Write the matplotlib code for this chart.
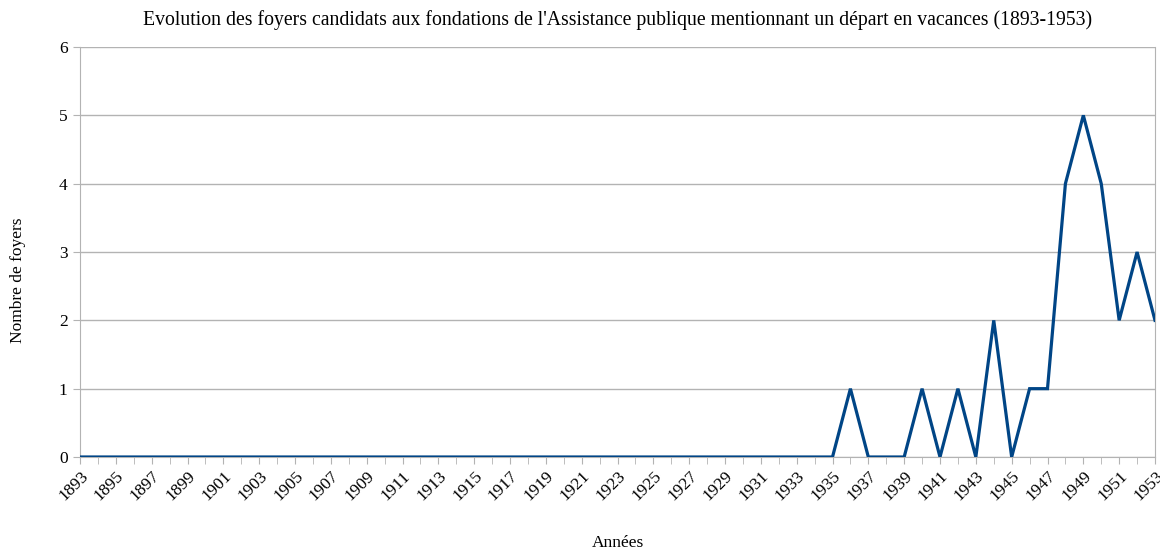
import numpy as np
import matplotlib.pyplot as plt

plt.rcParams['font.family'] = ['Liberation Serif', 'DejaVu Serif']

# Data
years = list(range(1893, 1954))
values = [0] * (1936 - 1893) + [1, 0, 0, 0, 1, 0, 1, 0, 2, 0, 1, 1, 4, 5, 4, 2, 3, 2]

fig = plt.figure(figsize=(11.6, 5.51), dpi=100)
ax = fig.add_axes([80 / 1160, 1 - 457 / 551, 1075 / 1160, 410 / 551])

ax.plot(years, values, color='#004586', linewidth=2.3, solid_joinstyle='miter', zorder=3)

ax.set_xlim(1893, 1953)
ax.set_ylim(0, 6)
ax.set_yticks(range(0, 7))
ax.set_xticks(years[::2])
ax.set_xticks(years, minor=True)
ax.set_xticklabels([str(y) for y in years[::2]], rotation=45, ha='right',
                   rotation_mode='anchor', fontsize=12.5)
ax.tick_params(axis='y', labelsize=12.5, length=5, color='#b3b3b3', pad=4)
ax.tick_params(axis='x', which='both', length=5, color='#b3b3b3', pad=3)

ax.grid(axis='y', color='#b3b3b3', linewidth=1)
for s in ['left', 'right', 'bottom']:
    ax.spines[s].set_color('#b3b3b3')
ax.spines['top'].set_visible(False)

ax.set_title("Evolution des foyers candidats aux fondations de l'Assistance publique mentionnant un départ en vacances (1893-1953)",
             fontsize=14.2, pad=16)
ax.set_xlabel('Années', fontsize=12.5)
ax.set_ylabel('Nombre de foyers', fontsize=12.5)
ax.xaxis.set_label_coords(0.5, -0.19)
ax.yaxis.set_label_coords(-0.05, 0.43)

fig.savefig('out.png', dpi=100)
